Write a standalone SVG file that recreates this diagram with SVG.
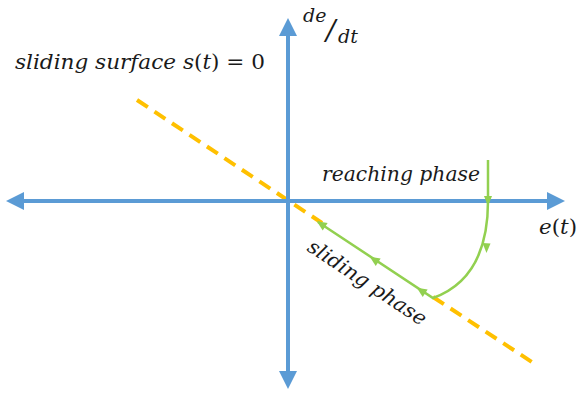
<svg xmlns="http://www.w3.org/2000/svg" width="578" height="393" viewBox="0 0 578 393">
<style>
.axis{stroke:#5B9BD5;stroke-width:4;fill:none}
.ah{fill:#5B9BD5}
.surf{stroke:#FFC000;stroke-width:4;stroke-dasharray:13,8;fill:none}
.traj{stroke:#92D050;stroke-width:2.5;fill:none}
.ga{fill:#92D050}
.t{font-family:"DejaVu Serif","Liberation Serif",serif;font-style:italic;fill:#1a1a1a}
.u{font-style:normal}
</style>
<rect width="578" height="393" fill="#fff"/>
<g id="surface">
<line class="surf" x1="137" y1="100" x2="322" y2="223"/>
<line class="surf" x1="433" y1="297" x2="538" y2="366"/>
</g>
<g id="axes">
<line class="axis" x1="22" y1="201" x2="550" y2="201"/>
<polygon class="ah" points="6,201 24,192 24,210"/>
<polygon class="ah" points="565,201 547,192 547,210"/>
<line class="axis" x1="288" y1="34" x2="288" y2="374"/>
<polygon class="ah" points="288,18 279,36 297,36"/>
<polygon class="ah" points="288,389 279,371 297,371"/>
</g>
<g id="connectors">
<path class="traj" d="M488,160 L488,201 C488,250 472,284 433,298 L318,222"/>
<polygon class="ga" points="488,206 484,196 492,196"/>
<polygon class="ga" points="486.5,253 482.5,243 490.5,243.5"/>
<g transform="translate(421,290.5) rotate(-146.5)"><polygon class="ga" points="5,0 -5,-4.5 -5,4.5"/></g>
<g transform="translate(374,259.5) rotate(-146.5)"><polygon class="ga" points="5,0 -5,-4.5 -5,4.5"/></g>
<g transform="translate(321,224) rotate(-146.5)"><polygon class="ga" points="5,0 -5,-4.5 -5,4.5"/></g>
</g>
<g id="labels">
<text class="t" x="15" y="69" font-size="21" textLength="250" lengthAdjust="spacingAndGlyphs">sliding surface s<tspan class="u">(</tspan>t<tspan class="u">) = 0</tspan></text>
<text class="t" x="303" y="22" font-size="19">de</text>
<text class="t" x="326" y="40" font-size="28">/</text>
<text class="t" x="338" y="43" font-size="19">dt</text>
<text class="t" x="322" y="181" font-size="20" textLength="158" lengthAdjust="spacingAndGlyphs">reaching phase</text>
<text class="t" x="539" y="234" font-size="20" textLength="38" lengthAdjust="spacingAndGlyphs">e<tspan class="u">(</tspan>t<tspan class="u">)</tspan></text>
<text class="t" font-size="20" transform="translate(306,250) rotate(33.5)" textLength="138" lengthAdjust="spacingAndGlyphs">sliding phase</text>
</g>
</svg>
